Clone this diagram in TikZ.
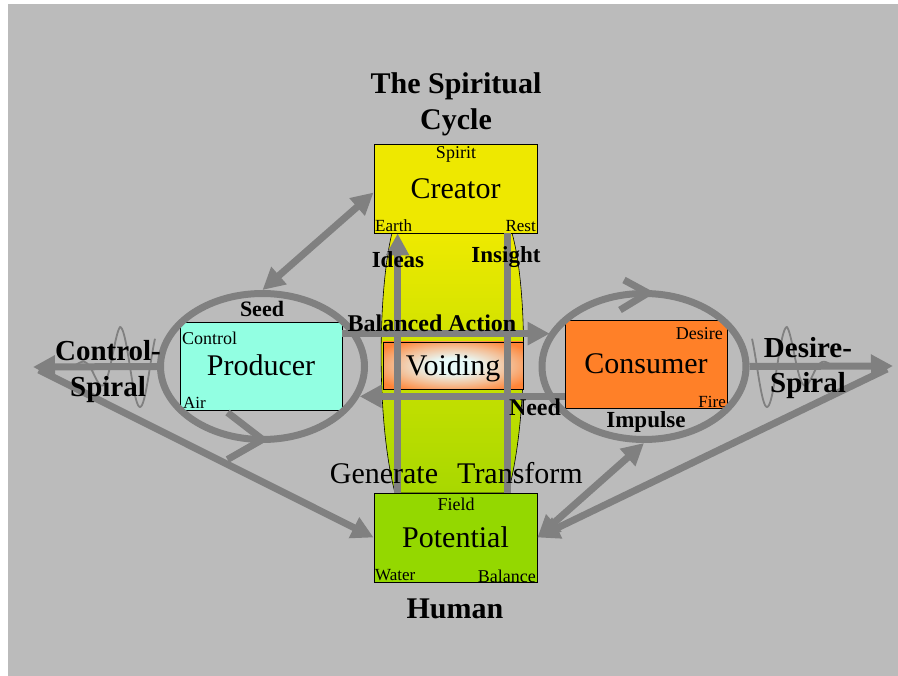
\documentclass[tikz,border=0pt]{standalone}
\usepackage{fontspec}
\setmainfont{Liberation Serif}
\usetikzlibrary{arrows.meta,shapes.geometric,calc}
\definecolor{bggray}{HTML}{BBBBBB}
\definecolor{agray}{HTML}{808080}
\definecolor{creatorc}{HTML}{EEE800}
\definecolor{potentialc}{HTML}{94D800}
\definecolor{producerc}{HTML}{92FFE2}
\definecolor{consumerc}{HTML}{FF8028}
\definecolor{lenstop}{HTML}{EEEA00}
\definecolor{lensbot}{HTML}{A8D800}
\definecolor{voidc}{HTML}{E8FAF8}
\definecolor{voido}{HTML}{FF8436}
\colorlet{voidm}{voidc!50!voido}
\pgfdeclareradialshading{voidshade}{\pgfpoint{0bp}{0bp}}{color(0bp)=(voidc); color(8bp)=(voidc); color(20bp)=(voidm); color(31bp)=(voido); color(50bp)=(voido)}
\newcommand\fsz[1]{\fontsize{#1pt}{#1pt}\selectfont}
\begin{document}
\begin{tikzpicture}[x=1pt,y=-1pt,
  box/.style={draw=black, line width=0.8pt, inner sep=0pt, text height=20pt, text depth=0pt, font=\fsz{30}},
  ring/.style={ellipse, draw=agray, line width=7pt, inner sep=0pt},
  conn/.style={draw=agray, line width=7pt},
  arr/.style={conn, -{Triangle[length=22pt,width=22pt]}},
  darr/.style={conn, {Triangle[length=22pt,width=22pt]}-{Triangle[length=22pt,width=22pt]}},
  wave/.style={draw=agray, line width=1.8pt},
  lbl/.style={inner sep=0pt, anchor=base},
  small/.style={lbl, font=\fsz{18}},
  blbl/.style={lbl, font={\fsz{23}\bfseries}}]
\useasboundingbox (0,0) rectangle (898,676);
\fill[white] (0,0) rectangle (898,676);
\fill[bggray] (8,4) rectangle (898,676);

% lens
\path[top color=lenstop, bottom color=lensbot, draw=black, line width=0.6pt]
  (392,233) .. controls (378,290) and (376,420) .. (395,493) -- (508,493)
  .. controls (528,420) and (528,290) .. (512,233) -- cycle;

% boxes
\node[box, fill=creatorc, minimum width=163pt, minimum height=89pt] (creator) at (455.5,188.5) {Creator};
\node[box, fill=potentialc, minimum width=163pt, minimum height=89pt] (potential) at (455.5,537.5) {Potential};
\node[box, fill=producerc, minimum width=162pt, minimum height=88pt] (producer) at (261,366) {Producer};
\node[box, fill=consumerc, minimum width=162pt, minimum height=88pt] (consumer) at (646,364) {Consumer};
\node[box, shade, shading=voidshade, minimum width=140pt, minimum height=47pt] (voiding) at (453,365.5) {Voiding};

% rings
\node[ring, minimum width=204pt, minimum height=146pt] (lring) at (262.5,366.5) {};
\node[ring, minimum width=204pt, minimum height=146pt] (rring) at (644,366.5) {};

% ring chevrons
\coordinate (rchev) at ([xshift=4pt,yshift=-3pt]rring.north);
\draw[conn] ([xshift=-24pt,yshift=13pt]rchev) -- (rchev) -- ([xshift=-28pt,yshift=-17pt]rchev);
\coordinate (lchev) at ([yshift=3.5pt]lring.south);
\draw[conn] ([xshift=-35pt,yshift=27pt]lchev) -- (lchev) -- ([xshift=-35pt,yshift=-20pt]lchev);

% tips
\coordinate (ltip) at (33,367);
\coordinate (rtip) at (893,366);

% connectors
\draw[arr] (lring.west) -- (ltip);
\draw[arr] ([xshift=6pt,yshift=-3pt]ltip) -- (potential.west);
\draw[arr] (rring.east) -- (rtip);
\draw[arr] ([xshift=-6pt,yshift=-3pt]rtip) -- (potential.east);
\draw[darr] (rring.south) -- (potential.east);
\draw[darr] (lring.north) -- ([yshift=-4pt]creator.west);
\coordinate (baS) at ([yshift=-12pt]producer.north east);
\draw[arr] (baS) -- (baS -| rring.160);
\coordinate (ndS) at ([yshift=12pt]consumer.south west);
\draw[arr] (ndS) -- (ndS -| lring.-17);
\draw[arr] ([xshift=24pt]potential.north west) -- ([xshift=24pt]creator.south west);
\draw[conn] ([xshift=-30pt]creator.south east) -- ([xshift=-30pt]potential.north east);

% spiral waves
\draw[wave] plot[domain=60:155, samples=140, smooth] (\x, {367 - 40*min(1,((\x-60)/60)^2)*sin((\x-110)*9)});
\draw[wave] plot[domain=752:847, samples=140, smooth] (\x, {367 - 40*min(1,((847-\x)/60)^2)*sin((797-\x)*9)});

% small labels
\node[small] (spirit) at (456,159) {Spirit};
\node[small, anchor=base west, font=\fsz{17}] (earth) at (375,232) {Earth};
\node[small, anchor=base east, font=\fsz{17}] (rest) at (536,232) {Rest};
\node[small] (field) at (456,511) {Field};
\node[small, anchor=base west, font=\fsz{17}] (water) at (375,580) {Water};
\node[small, anchor=base east] (balance) at (536,582) {Balance};
\node[small, anchor=base west] (control) at (182,345) {Control};
\node[small, anchor=base west, font=\fsz{17}] (air) at (183,409) {Air};
\node[small, anchor=base east] (desire) at (723,340) {Desire};
\node[small, anchor=base east, font=\fsz{17}] (fire) at (726,408) {Fire};

% bold labels
\node[inner sep=0pt, align=center, font={\fontsize{30pt}{36pt}\selectfont\bfseries}] (title) at (456,104) {The Spiritual\\Cycle};
\node[lbl, font={\fsz{30}\bfseries}] (human) at (455,618) {Human};
\node[inner sep=0pt, align=center, font={\fontsize{29pt}{36pt}\selectfont\bfseries}] (cspiral) at (108,372) {Control-\\Spiral};
\node[inner sep=0pt, align=center, font={\fontsize{29pt}{35pt}\selectfont\bfseries}] (dspiral) at (808,368.5) {Desire-\\Spiral};
\node[blbl, font={\fsz{22}\bfseries}] (seed) at (262,317) {Seed};
\node[blbl, font={\fsz{24}\bfseries}] (balanced) at (432,332) {Balanced Action};
\node[blbl] (ideas) at (398,268) {Ideas};
\node[blbl] (insight) at (506,263) {Insight};
\node[blbl, font={\fsz{24}\bfseries}] (need) at (535,416) {Need};
\node[blbl] (impulse) at (646,428) {Impulse};
\node[lbl, font=\fsz{30}] (generate) at (384,484) {Generate};
\node[lbl, font=\fsz{30}] (transform) at (520,484) {Transform};
\end{tikzpicture}
\end{document}
